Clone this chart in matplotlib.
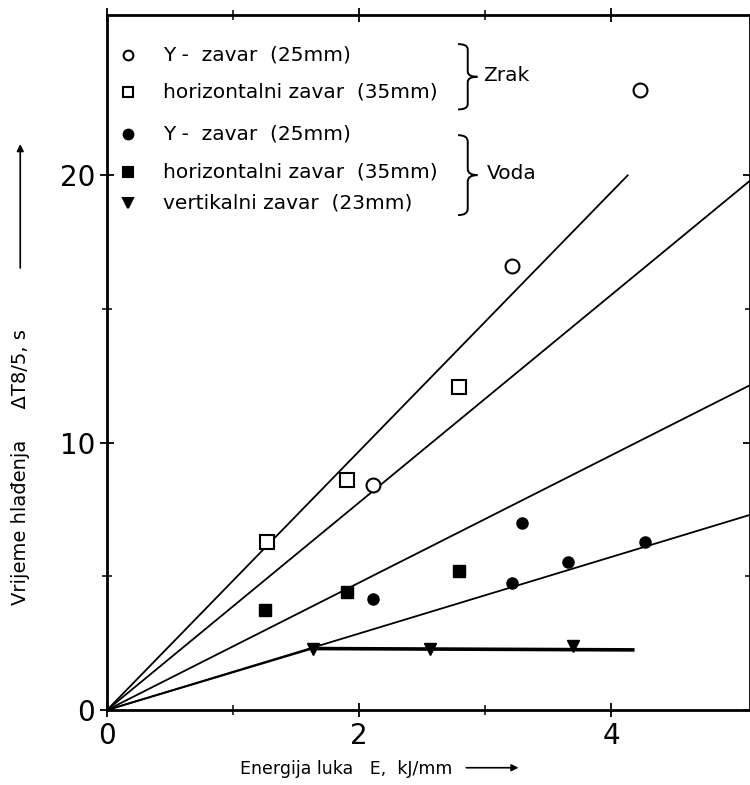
import numpy as np
import matplotlib.pyplot as plt
from matplotlib.path import Path
from matplotlib.patches import PathPatch

# Zrak (air) series
zrak_y_E = [2.11, 3.21, 4.23]
zrak_y_t = [8.4, 16.6, 23.2]
zrak_h_E = [1.27, 1.90, 2.79]
zrak_h_t = [6.3, 8.6, 12.1]

# Voda (water) series
voda_y_E = [2.11, 3.29, 3.21, 3.66, 4.27]
voda_y_t = [4.15, 7.0, 4.75, 5.55, 6.3]
voda_h_E = [1.25, 1.90, 2.79]
voda_h_t = [3.75, 4.4, 5.2]
voda_v_E = [1.63, 2.56, 3.70]
voda_v_t = [2.3, 2.3, 2.4]

# fitted lines through origin: (end E, end t)
fit_lines = [(4.13, 20.0), (5.10, 19.8), (5.10, 12.15), (5.10, 7.3)]
vert_line_E = [0, 1.63, 4.17]
vert_line_t = [0, 2.3, 2.25]


def brace(ax, x, y0, y1, w):
    # right-pointing curly brace in axes coords
    ym = (y0 + y1) / 2
    xm = x + w * 0.5
    r = (y1 - y0) * 0.08
    verts = [(x, y1), (xm, y1), (xm, y1 - r),
             (xm, ym + r),
             (xm, ym), (x + w, ym),
             (xm, ym), (xm, ym - r),
             (xm, y0 + r),
             (xm, y0), (x, y0)]
    codes = [Path.MOVETO, Path.CURVE3, Path.CURVE3,
             Path.LINETO,
             Path.CURVE3, Path.CURVE3,
             Path.CURVE3, Path.CURVE3,
             Path.LINETO,
             Path.CURVE3, Path.CURVE3]
    ax.add_patch(PathPatch(Path(verts, codes), fc='none', ec='black', lw=1.4,
                           transform=ax.transAxes, clip_on=False))


fig = plt.figure(figsize=(7.5, 7.85), dpi=100)
ax = fig.add_axes([0.1427, 0.0955, 0.8573, 0.8855])

for e, t in fit_lines:
    ax.plot([0, e], [0, t], color='black', lw=1.3)
ax.plot(vert_line_E[:2], vert_line_t[:2], color='black', lw=1.3)
ax.plot(vert_line_E[1:], vert_line_t[1:], color='black', lw=2.6)

ax.plot(zrak_y_E, zrak_y_t, 'o', mfc='white', mec='black', mew=1.5, ms=10)
ax.plot(zrak_h_E, zrak_h_t, 's', mfc='white', mec='black', mew=1.5, ms=10)
ax.plot(voda_y_E, voda_y_t, 'o', color='black', ms=8)
ax.plot(voda_h_E, voda_h_t, 's', color='black', ms=8)
ax.plot(voda_v_E, voda_v_t, 'v', color='black', ms=9)

ax.set_xlim(0, 5.1)
ax.set_ylim(0, 26)
ax.set_xticks([0, 2, 4])
ax.set_xticks([1, 3], minor=True)
ax.set_yticks([0, 10, 20])
ax.set_yticks([5, 15], minor=True)
ax.tick_params(axis='both', which='major', direction='inout', length=10, width=1.3,
               labelsize=20, top=True, right=True)
ax.tick_params(axis='both', which='minor', direction='inout', length=7, width=1.1,
               top=True, right=True)
for s in ax.spines.values():
    s.set_linewidth(2)

# legend drawn by hand
rows = [
    ('o', 'white', 'Y -  zavar  (25mm)', 0.942),
    ('s', 'white', 'horizontalni zavar  (35mm)', 0.889),
    ('o', 'black', 'Y -  zavar  (25mm)', 0.829),
    ('s', 'black', 'horizontalni zavar  (35mm)', 0.774),
    ('v', 'black', 'vertikalni zavar  (23mm)', 0.729),
]
for m, fc, label, yy in rows:
    ax.plot([0.033], [yy], m, transform=ax.transAxes, mfc=fc, mec='black',
            mew=1.5, ms=7, clip_on=False)
    ax.text(0.087, yy, label, transform=ax.transAxes, fontsize=14.5, va='center')

brace(ax, 0.546, 0.864, 0.958, 0.03)
ax.text(0.585, 0.913, 'Zrak', transform=ax.transAxes, fontsize=14.5, va='center')
brace(ax, 0.546, 0.712, 0.827, 0.03)
ax.text(0.590, 0.772, 'Voda', transform=ax.transAxes, fontsize=14.5, va='center')

# axis labels with arrows
fig.text(0.027, 0.405, 'Vrijeme hlađenja     ΔT8/5, s', rotation=90, fontsize=14,
         ha='center', va='center')
ax.annotate('', xy=(0.027, 0.82), xytext=(0.027, 0.655), xycoords='figure fraction',
            arrowprops=dict(arrowstyle='-|>', color='black', lw=1.2))
fig.text(0.462, 0.020, 'Energija luka   E,  kJ/mm', fontsize=12.5, ha='center',
         va='center')
ax.annotate('', xy=(0.695, 0.022), xytext=(0.618, 0.022), xycoords='figure fraction',
            arrowprops=dict(arrowstyle='-|>', color='black', lw=1.2))

fig.savefig('out.png', dpi=100)
